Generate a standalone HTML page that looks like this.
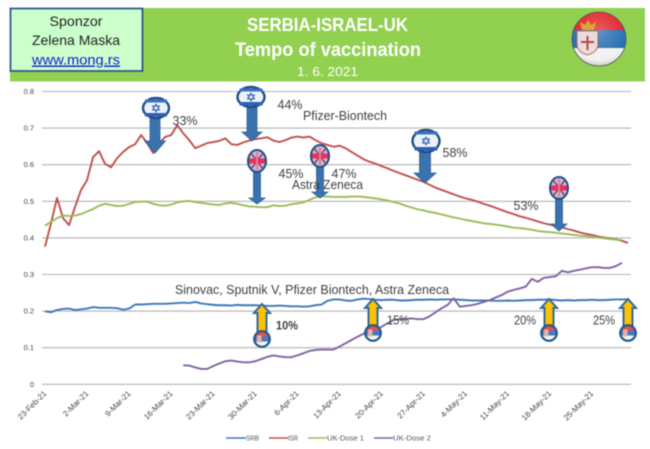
<!DOCTYPE html>
<html>
<head>
<meta charset="utf-8">
<title>Serbia-Israel-UK Tempo of vaccination</title>
<style>
html,body{margin:0;padding:0;background:#fff;width:650px;height:449px;overflow:hidden}
svg{display:block;filter:blur(.5px)}
text{font-family:"Liberation Sans",sans-serif}
</style>
</head>
<body>
<svg id="root" xmlns="http://www.w3.org/2000/svg" width="650" height="449" viewBox="0 0 650 449">
  <defs>
    <clipPath id="bigFlagClip"><circle cx="599" cy="39" r="27"/></clipPath>
    <radialGradient id="gloss" cx="50%" cy="35%" r="70%">
      <stop offset="0" stop-color="#fff" stop-opacity=".25"/>
      <stop offset=".7" stop-color="#fff" stop-opacity="0"/>
      <stop offset="1" stop-color="#000" stop-opacity=".3"/>
    </radialGradient>
  </defs>
  <rect x="0" y="0" width="650" height="449" fill="#fff"/>
  <g>
    <rect x="10" y="8" width="635" height="73.5" fill="#92d050"/>
    <text x="327.5" y="31" text-anchor="middle" font-size="18" font-weight="bold" fill="#fff" textLength="161" lengthAdjust="spacingAndGlyphs">SERBIA-ISRAEL-UK</text>
    <text x="328" y="56" text-anchor="middle" font-size="19" font-weight="bold" fill="#fff" textLength="186" lengthAdjust="spacingAndGlyphs">Tempo of vaccination</text>
    <text x="327.5" y="76" text-anchor="middle" font-size="13" fill="#fff" textLength="61" lengthAdjust="spacingAndGlyphs">1. 6. 2021</text>
  </g>
  <g>
    <rect x="10.5" y="8.5" width="132" height="62.5" fill="#ccffcc" stroke="#2f5a8f" stroke-width="1.8"/>
    <text x="76" y="26" text-anchor="middle" font-size="14" fill="#222" textLength="53" lengthAdjust="spacingAndGlyphs">Sponzor</text>
    <text x="76" y="45" text-anchor="middle" font-size="14" fill="#222" textLength="88" lengthAdjust="spacingAndGlyphs">Zelena Maska</text>
    <text x="76" y="64.500" text-anchor="middle" font-size="14" fill="#1a1ad0" text-decoration="underline" textLength="88" lengthAdjust="spacingAndGlyphs">www.mong.rs</text>
  </g>
  <g>
    <g clip-path="url(#bigFlagClip)">
      <rect x="570" y="12" width="58" height="18" fill="#e2242b"/>
      <rect x="570" y="30" width="58" height="18" fill="#2a6fb5"/>
      <rect x="570" y="48" width="58" height="18" fill="#f2f2f2"/>
      <rect x="570" y="12" width="58" height="54" fill="url(#gloss)"/>
    </g>
    <circle cx="599" cy="39" r="27" fill="none" stroke="#555" stroke-width=".8"/>
    <path d="M580 22 L582 30 L594 30 L596 22 L591 25 L588 20 L585 25 Z" fill="#d8a830"/>
    <path d="M577 31 H598 V44 Q598 52 587.500 55 Q577 52 577 44 Z" fill="#e8dcdc" stroke="#c05050" stroke-width=".8"/>
    <rect x="586.500" y="36" width="2" height="14" fill="#b84848"/>
    <rect x="581" y="41" width="13" height="2" fill="#b84848"/>
  </g>
  <g id="gridLayer"></g>
  <g id="yLabels"></g>
  <g id="xLabels"></g>
  <g id="seriesLayer"></g>
  <g id="pins"></g>
  <g fill="#404040" font-size="13">
    <text x="185" y="125" text-anchor="middle" textLength="25" lengthAdjust="spacingAndGlyphs">33%</text>
    <text x="290" y="109" text-anchor="middle" textLength="25" lengthAdjust="spacingAndGlyphs">44%</text>
    <text x="303" y="120" textLength="84" lengthAdjust="spacingAndGlyphs">Pfizer-Biontech</text>
    <text x="291" y="178" text-anchor="middle" textLength="25" lengthAdjust="spacingAndGlyphs">45%</text>
    <text x="344" y="178" text-anchor="middle" textLength="25" lengthAdjust="spacingAndGlyphs">47%</text>
    <text x="292" y="189" textLength="71" lengthAdjust="spacingAndGlyphs">Astra Zeneca</text>
    <text x="455" y="157" text-anchor="middle" textLength="25" lengthAdjust="spacingAndGlyphs">58%</text>
    <text x="526" y="210" text-anchor="middle" textLength="25" lengthAdjust="spacingAndGlyphs">53%</text>
    <text x="175" y="294" textLength="274" lengthAdjust="spacingAndGlyphs">Sinovac, Sputnik V, Pfizer Biontech, Astra Zeneca</text>
    <text x="287" y="329.500" text-anchor="middle" font-weight="bold" font-size="12" textLength="22" lengthAdjust="spacingAndGlyphs">10%</text>
    <text x="398" y="324.500" text-anchor="middle" textLength="22" lengthAdjust="spacingAndGlyphs">15%</text>
    <text x="525" y="324.500" text-anchor="middle" textLength="22" lengthAdjust="spacingAndGlyphs">20%</text>
    <text x="604" y="324.500" text-anchor="middle" textLength="22" lengthAdjust="spacingAndGlyphs">25%</text>
  </g>
  <g font-size="7" fill="#555">
    <g>
      <line x1="226" x2="246" y1="438" y2="438" stroke="#3e78b8" stroke-width="1.500"/>
      <text x="246" y="440.500" textLength="13" lengthAdjust="spacingAndGlyphs">SRB</text>
    </g>
    <g>
      <line x1="269" x2="288" y1="438" y2="438" stroke="#c0504d" stroke-width="1.500"/>
      <text x="288" y="440.500" textLength="10" lengthAdjust="spacingAndGlyphs">ISR</text>
    </g>
    <g>
      <line x1="308" x2="327" y1="438" y2="438" stroke="#9bbb59" stroke-width="1.500"/>
      <text x="327" y="440.500" textLength="37" lengthAdjust="spacingAndGlyphs">UK-Dose 1</text>
    </g>
    <g>
      <line x1="374" x2="393" y1="438" y2="438" stroke="#8064a2" stroke-width="1.500"/>
      <text x="393" y="440.500" textLength="38" lengthAdjust="spacingAndGlyphs">UK-Dose 2</text>
    </g>
  </g>
</svg>
<script>
const yTickLabels = ["0","0.1","0.2","0.3","0.4","0.5","0.6","0.7","0.8"];
const yTickValues = [0,0.1,0.2,0.3,0.4,0.5,0.6,0.7,0.8];
const xTickLabels = ["23-Feb-21","2-Mar-21","9-Mar-21","16-Mar-21","23-Mar-21","30-Mar-21","6-Apr-21","13-Apr-21","20-Apr-21","27-Apr-21","4-May-21","11-May-21","18-May-21","25-May-21"];
const daysPerTick = 7;
const dayCount = 98;
const srb = [.199,.197,.203,.206,.207,.203,.205,.207,.211,.209,
.209,.209,.208,.204,.207,.218,.218,.219,.220,.220,
.220,.221,.222,.223,.222,.225,.221,.219,.217,.216,
.216,.215,.217,.216,.216,.216,.215,.214,.214,.215,
.214,.213,.213,.212,.213,.216,.218,.228,.232,.232,
.229,.228,.232,.234,.233,.231,.230,.231,.231,.229,
.229,.230,.231,.231,.232,.231,.232,.232,.232,.231,
.230,.229,.229,.229,.229,.228,.228,.229,.228,.229,
.230,.230,.231,.231,.232,.230,.229,.230,.229,.230,
.230,.231,.230,.230,.231,.232,.232,.232];
const isr = [.376,.44,.509,.454,.435,.485,.531,.558,.621,.637,
.602,.593,.618,.635,.648,.656,.681,.659,.632,.659,
.676,.681,.708,.686,.667,.645,.652,.659,.662,.665,
.672,.656,.654,.661,.666,.670,.672,.675,.666,.662,
.667,.674,.677,.674,.677,.667,.659,.654,.649,.652,
.645,.635,.625,.615,.608,.603,.596,.590,.583,.577,
.571,.565,.559,.553,.545,.537,.531,.525,.519,.513,
.508,.504,.499,.493,.488,.482,.476,.470,.465,.459,
.455,.450,.445,.440,.436,.433,.429,.424,.420,.415,
.411,.408,.404,.401,.399,.396,.392,.386];
const ukDose1 = [.433,.444,.454,.461,.460,.461,.465,.472,.479,.488,
.493,.490,.487,.488,.493,.498,.499,.499,.493,.489,
.488,.491,.497,.500,.501,.498,.496,.493,.491,.490,
.494,.496,.493,.489,.486,.485,.484,.484,.489,.487,
.488,.492,.494,.497,.504,.511,.514,.513,.512,.512,
.512,.513,.513,.512,.510,.508,.505,.502,.498,.494,
.488,.483,.478,.475,.471,.468,.464,.460,.456,.453,
.449,.446,.443,.440,.438,.436,.434,.431,.428,.427,
.425,.422,.419,.417,.416,.414,.412,.410,.408,.406,
.405,.403,.401,.399,.397,.395,.394,null];
const ukDose2 = [null,null,null,null,null,null,null,null,null,null,
null,null,null,null,null,null,null,null,null,null,
null,null,null,.052,.051,.046,.042,.042,.050,.057,
.063,.065,.062,.060,.060,.063,.069,.075,.079,.076,
.074,.074,.079,.085,.091,.094,.095,.095,.095,.103,
.112,.121,.130,.138,.146,.151,.157,.167,.176,.178,
.179,.180,.178,.178,.186,.197,.208,.217,.235,.212,
.214,.216,.220,.225,.230,.237,.244,.253,.258,.262,
.267,.288,.280,.291,.293,.295,.310,.306,.310,.313,
.317,.320,.320,.318,.318,.323,.332,null];

const NS = "http://www.w3.org/2000/svg";
const plotLeft = 42, plotRight = 631, yZero = 384.3, pxPerUnit = 366;
function xScale(i){ return plotLeft + (i + 0.5) * (plotRight - plotLeft) / dayCount; }
function yScale(v){ return yZero - v * pxPerUnit; }
function mk(tag, attrs, parent){
  const el = document.createElementNS(NS, tag);
  for (const k in attrs) el.setAttribute(k, attrs[k]);
  parent.appendChild(el);
  return el;
}

const gridLayer = document.getElementById("gridLayer");
const yLabels = document.getElementById("yLabels");
yTickValues.forEach(function(v, i){
  const g = mk("line", {x1: plotLeft, x2: plotRight, y1: yScale(v), y2: yScale(v), stroke: "#b4b4b4", "stroke-width": 1.1}, gridLayer);
  
  
  const t = mk("text", {x: 34, y: yScale(v) + 2.5, "text-anchor": "end", "font-size": 7.5, fill: "#444"}, yLabels);
  
  
  t.textContent = yTickLabels[i];
});

const xLabels = document.getElementById("xLabels");
xTickLabels.forEach(function(label, i){
  const px = xScale(i * daysPerTick) + 2;
  const t = mk("text", {x: px, y: 394, "text-anchor": "end", "font-size": 8, fill: "#444", transform: "rotate(-45 " + px + " 394)"}, xLabels);
  
  
  t.textContent = label;
});

function pathFor(values){
  let d = "", pen = false;
  values.forEach(function(v, i){
    if (v === null) { pen = false; return; }
    d += (pen ? "L" : "M") + xScale(i).toFixed(2) + " " + yScale(v).toFixed(2);
    pen = true;
  });
  return d;
}
const seriesLayer = document.getElementById("seriesLayer");
const lineSrb = mk("path", {d: pathFor(srb), fill: "none", stroke: "#3e78b8", "stroke-width": 1.9, "stroke-linejoin": "round"}, seriesLayer);


const lineIsr = mk("path", {d: pathFor(isr), fill: "none", stroke: "#c0504d", "stroke-width": 1.9, "stroke-linejoin": "round"}, seriesLayer);


const lineD1 = mk("path", {d: pathFor(ukDose1), fill: "none", stroke: "#9bbb59", "stroke-width": 1.9, "stroke-linejoin": "round"}, seriesLayer);


const lineD2 = mk("path", {d: pathFor(ukDose2), fill: "none", stroke: "#8064a2", "stroke-width": 1.9, "stroke-linejoin": "round"}, seriesLayer);



const pins = document.getElementById("pins");
function downArrow(cx, top, base, tip, shaft, head){
  const a = mk("path", {d: "M" + (cx - shaft) + " " + top + "H" + (cx + shaft) + "V" + base + "H" + (cx + head) + "L" + cx + " " + tip + "L" + (cx - head) + " " + base + "H" + (cx - shaft) + "Z", fill: "#3a72ae", stroke: "#2f5f96", "stroke-width": .8}, pins);
  
  
}
function israelPin(cx, cy, rx, ry){
  const g = mk("g", {}, pins);
  
  
  mk("ellipse", {cx: cx, cy: cy, rx: rx, ry: ry, fill: "#eef2f8", stroke: "#1f4e85", "stroke-width": 2.4}, g);
  mk("rect", {x: cx - rx + 2, y: cy - ry + 1.5, width: 2 * rx - 4, height: 3, fill: "#3d6fc0"}, g);
  mk("rect", {x: cx - rx + 2, y: cy + ry - 5, width: 2 * rx - 4, height: 3.5, fill: "#2f5fb5"}, g);
  mk("path", {d: "M" + cx + " " + (cy - 4) + "l3.5 6h-7Z M" + cx + " " + (cy + 4) + "l3.5 -6h-7Z", fill: "none", stroke: "#3d6fc0", "stroke-width": 1}, g);
}
function ukPin(cx, cy, rx, ry){
  const g = mk("g", {}, pins);
  
  
  mk("ellipse", {cx: cx, cy: cy, rx: rx, ry: ry, fill: "#cdbccf", stroke: "#1f4e85", "stroke-width": 2}, g);
  mk("path", {d: "M" + (cx - 6) + " " + (cy - 8) + "L" + (cx + 6) + " " + (cy + 8) + "M" + (cx + 6) + " " + (cy - 8) + "L" + (cx - 6) + " " + (cy + 8), stroke: "#7a4a78", "stroke-width": 1.6}, g);
  mk("rect", {x: cx - rx + 1, y: cy - 2.5, width: 2 * rx - 2, height: 5, fill: "#e8305a"}, g);
  mk("rect", {x: cx - 1, y: cy - ry + 2, width: 2, height: 2 * ry - 4, fill: "#e8789a"}, g);
}
function serbiaPin(cx, cy, tip){
  const a = mk("path", {d: "M" + (cx - 4.5) + " " + (cy - 7) + "V" + (tip + 9) + "H" + (cx - 8) + "L" + cx + " " + tip + "L" + (cx + 8) + " " + (tip + 9) + "H" + (cx + 4.5) + "V" + (cy - 7) + "Z", fill: "#ffc000", stroke: "#2f6a9f", "stroke-width": 2}, pins);
  
  
  const g = mk("g", {}, pins);
  
  
  mk("circle", {cx: cx, cy: cy, r: 7.4, fill: "#f4f4f4"}, g);
  mk("path", {d: "M" + (cx - 6.8) + " " + (cy - 2.5) + "A7.4 7.4 0 0 1 " + (cx + 6.8) + " " + (cy - 2.5) + "Z", fill: "#e05050"}, g);
  mk("rect", {x: cx - 7.2, y: cy - 2.5, width: 14.4, height: 5, fill: "#4a78c0"}, g);
  mk("rect", {x: cx - 5, y: cy - 3.5, width: 4.5, height: 7, fill: "#e8b0a8"}, g);
  mk("circle", {cx: cx, cy: cy, r: 7.8, fill: "none", stroke: "#1f5a8a", "stroke-width": 2.2}, g);
}

downArrow(155, 116, 141, 153, 5, 10.5);
israelPin(156, 108, 13, 10);
downArrow(252, 106, 132, 141, 5, 10);
israelPin(251, 97, 13.5, 10);
downArrow(257, 170, 198, 204, 3.5, 8);
ukPin(257, 161, 9, 11);
downArrow(320, 165, 192, 198, 3.5, 8);
ukPin(320, 156, 9, 11);
downArrow(425, 150, 173, 183, 5.5, 11);
israelPin(426, 141, 13.5, 11);
downArrow(559, 197, 224, 231, 3.5, 8);
ukPin(559, 188, 9, 11);
serbiaPin(262, 339, 304);
serbiaPin(373, 333, 299);
serbiaPin(549, 333, 299);
serbiaPin(628, 333, 299);
</script>
</body>
</html>
